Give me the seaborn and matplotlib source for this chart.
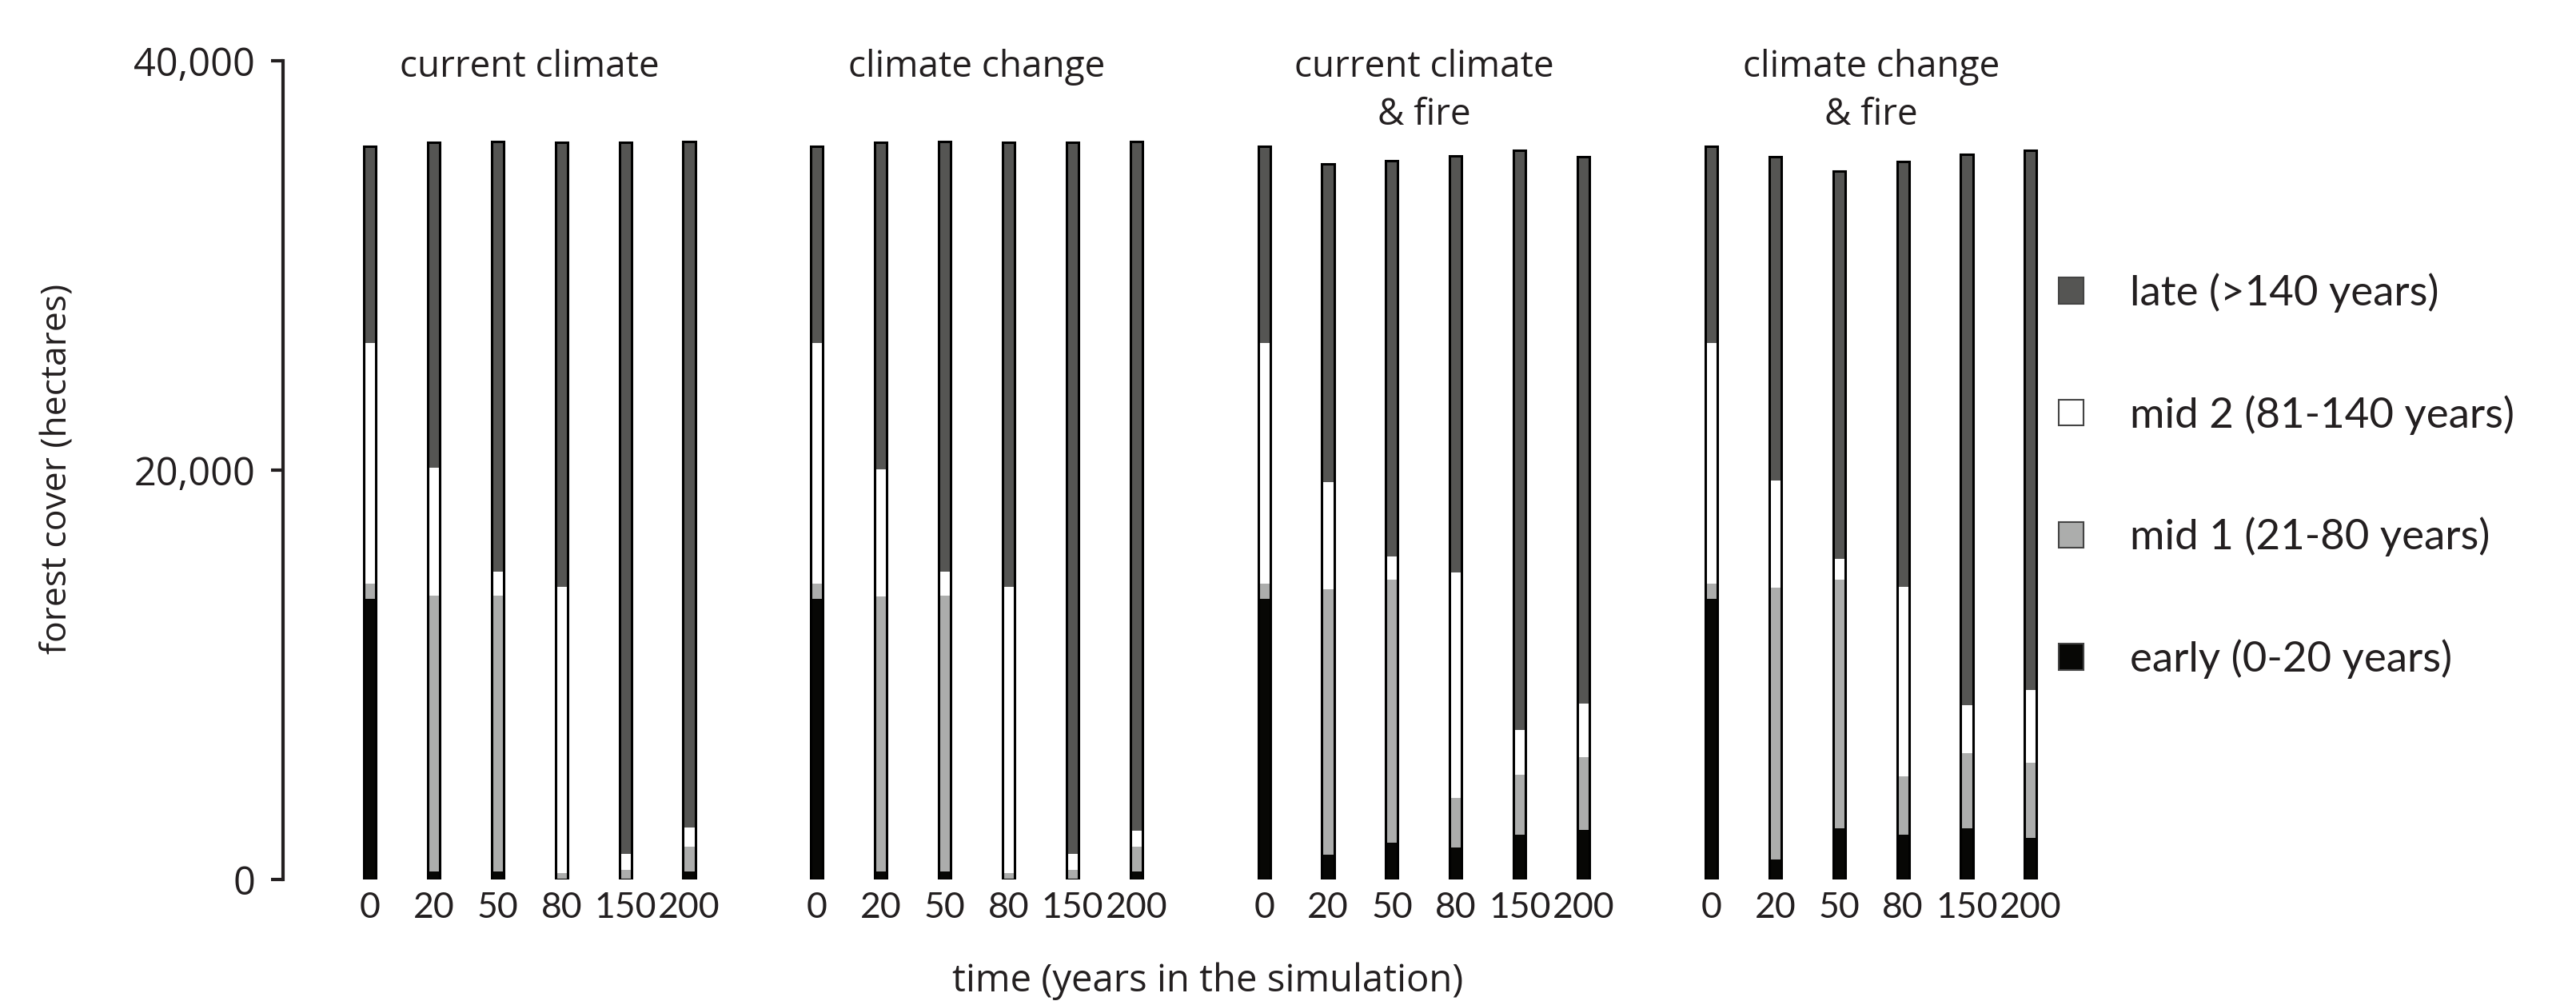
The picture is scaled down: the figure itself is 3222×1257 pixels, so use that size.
import numpy as np
import pandas as pd
import matplotlib
matplotlib.use("Agg")
import matplotlib.pyplot as plt
import seaborn as sns
from matplotlib.patches import Patch

# ---------------- data (hectares) ----------------
scenarios = ["current climate", "climate change", "current climate\n& fire", "climate change\n& fire"]
years = ["0", "20", "50", "80", "150", "200"]
stages = ["late (>140 years)", "mid 2 (81-140 years)", "mid 1 (21-80 years)", "early (0-20 years)"]

early_cc   = [13700, 400, 400, 50, 50, 400]
mid1_cc    = [760, 13470, 13470, 270, 430, 1210]
mid2_cc    = [11740, 6230, 1180, 13980, 780, 920]
late_cc    = [9630, 15900, 21020, 21700, 34740, 33540]

early_ch   = [13700, 400, 400, 50, 50, 400]
mid1_ch    = [760, 13440, 13470, 270, 430, 1210]
mid2_ch    = [11740, 6190, 1180, 13980, 780, 760]
late_ch    = [9630, 15970, 21020, 21700, 34740, 33700]

early_ccf  = [13700, 1210, 1800, 1560, 2200, 2420]
mid1_ccf   = [760, 12960, 12850, 2420, 2910, 3550]
mid2_ccf   = [11740, 5240, 1130, 11020, 2200, 2630]
late_ccf   = [9630, 15540, 19350, 20350, 28310, 26700]

early_chf  = [13700, 990, 2500, 2200, 2500, 2020]
mid1_chf   = [760, 13260, 12150, 2830, 3680, 3680]
mid2_chf   = [11740, 5240, 1000, 9270, 2340, 3570]
late_chf   = [9630, 15810, 18950, 20780, 26910, 26350]

y_ticks = [0, 20000, 40000]
y_ticklabels = ["0", "20,000", "40,000"]

colors = {"late": "#555553", "mid2": "#ffffff", "mid1": "#acadac", "early": "#070705"}

# ---------------- table ----------------
rows = []
series = [
    (early_cc, mid1_cc, mid2_cc, late_cc),
    (early_ch, mid1_ch, mid2_ch, late_ch),
    (early_ccf, mid1_ccf, mid2_ccf, late_ccf),
    (early_chf, mid1_chf, mid2_chf, late_chf),
]
group_gap = 7
for g, (e, m1, m2, l) in enumerate(series):
    for i, yr in enumerate(years):
        rows.append({"pos": g * group_gap + i, "year": yr, "scenario": scenarios[g],
                     "early": e[i], "mid1": m1[i], "mid2": m2[i], "late": l[i]})
df = pd.DataFrame(rows)
df["c_early"] = df["early"]
df["c_mid1"] = df["c_early"] + df["mid1"]
df["c_mid2"] = df["c_mid1"] + df["mid2"]
df["c_late"] = df["c_mid2"] + df["late"]

# ---------------- plot ----------------
sns.set_style("white")
plt.rcParams["font.family"] = ["Open Sans", "DejaVu Sans"]
TXT = "#231f20"
NARROW = ["Lato", "DejaVu Sans"]

W, H = 3223, 1257
fig = plt.figure(figsize=(W / 100, H / 100), dpi=100)
left_px, right_px, bottom_px, top_px = 354, 2620, 1100, 76
ax = fig.add_axes([left_px / W, (H - bottom_px) / H, (right_px - left_px) / W, (bottom_px - top_px) / H])

bw = 0.19
for col, key in [("c_late", "late"), ("c_mid2", "mid2"), ("c_mid1", "mid1"), ("c_early", "early")]:
    sns.barplot(data=df, x="pos", y=col, native_scale=True, width=bw, color=colors[key],
                saturation=1, errorbar=None, linewidth=0, edgecolor="none", ax=ax)
# outlines
sns.barplot(data=df, x="pos", y="c_late", native_scale=True, width=bw, color="black",
            saturation=1, errorbar=None, fill=False, linewidth=2.2, ax=ax)

x0 = (left_px - 462.5) / 79.9
ax.set_xlim(x0, x0 + (right_px - left_px) / 79.9)
ax.set_ylim(0, 40000)

ax.set_xticks(df["pos"].tolist())
ax.set_xticklabels(df["year"].tolist(), fontsize=32, color=TXT, family=NARROW)
ax.tick_params(axis="x", length=0, pad=11)
ax.set_yticks(y_ticks)
ax.set_yticklabels(y_ticklabels, fontsize=35, color=TXT)
ax.tick_params(axis="y", direction="out", length=11, width=3, color=TXT, pad=14, left=True)

for s in ["top", "right", "bottom"]:
    ax.spines[s].set_visible(False)
ax.spines["left"].set_linewidth(3)
ax.spines["left"].set_color(TXT)

ax.set_xlabel("")
ax.set_ylabel("")
fig.text(1511 / W, 1 - 1227 / H, "time (years in the simulation)", ha="center", va="center",
         fontsize=34, color=TXT)
fig.text(72 / W, 1 - 586 / H, "forest cover (hectares)", ha="center", va="center",
         rotation=90, fontsize=32, color=TXT)

for g, name in enumerate(scenarios):
    cx = g * group_gap + 2.5
    ax.text(cx, 40600, name, ha="center", va="top", fontsize=33, color=TXT,
            linespacing=1.4, clip_on=False)

handles = [Patch(facecolor=colors["late"], edgecolor="#444444", linewidth=1.5),
           Patch(facecolor=colors["mid2"], edgecolor="#444444", linewidth=1.5),
           Patch(facecolor=colors["mid1"], edgecolor="#444444", linewidth=1.5),
           Patch(facecolor=colors["early"], edgecolor="#444444", linewidth=1.5)]
fig.legend(handles, stages, loc="upper left", bbox_to_anchor=(2528 / W, 1 - 294 / H),
           frameon=False, prop={"family": NARROW, "size": 38}, handlelength=0.57, handleheight=0.57,
           handletextpad=1.1, labelspacing=1.95, labelcolor=TXT)

fig.savefig("out.png", dpi=100, facecolor="white")
